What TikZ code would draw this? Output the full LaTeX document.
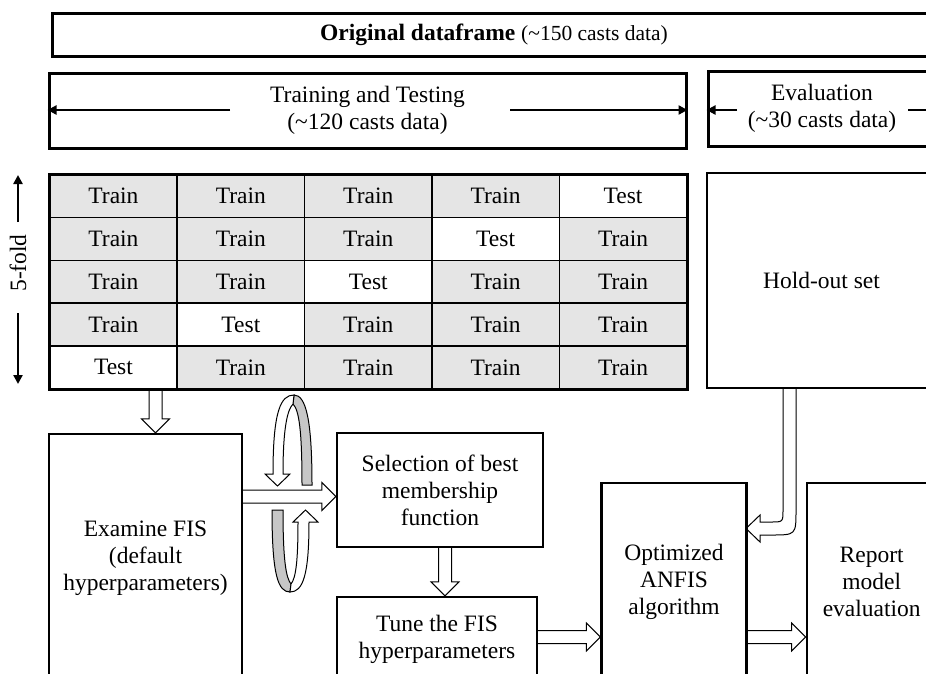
\documentclass[tikz,border=0pt]{standalone}
\usepackage{fontspec}
\setmainfont{Liberation Serif}
\usetikzlibrary{calc,arrows.meta}
\definecolor{cellgray}{gray}{0.9}
\definecolor{ribbon}{gray}{0.78}
\newcommand\barrowdown[2]{\draw[harrow] let \p1=(#1), \p2=(#2) in
  (\x1-6.5pt,\y1) -- (\x1-6.5pt,\y2+14pt) -- (\x1-14pt,\y2+14pt) -- (\x1,\y2) -- (\x1+14pt,\y2+14pt) -- (\x1+6.5pt,\y2+14pt) -- (\x1+6.5pt,\y1);}
\newcommand\barrowright[2]{\draw[harrow] let \p1=(#1), \p2=(#2) in
  (\x1,\y1+6.5pt) -- (\x2-14pt,\y1+6.5pt) -- (\x2-14pt,\y1+14pt) -- (\x2,\y1) -- (\x2-14pt,\y1-14pt) -- (\x2-14pt,\y1-6.5pt) -- (\x1,\y1-6.5pt);}
\begin{document}
\begin{tikzpicture}[x=1pt,y=-1pt,
  every node/.style={font=\fontsize{23.5}{27}\selectfont, align=center, inner sep=0pt},
  bigbox/.style={draw, line width=3pt},
  box/.style={draw, line width=2.2pt},
  cell/.style={draw, line width=1.5pt, minimum width=127.4pt, minimum height=42.8pt, font=\fontsize{23.5}{26}\selectfont},
  harrow/.style={draw, line width=1pt, line join=miter},
  thinarrow/.style={line width=2.6pt, -{Triangle[length=9pt,width=9pt]}},
  loopfill/.style={draw, line width=1pt, fill=ribbon},
  loopwhite/.style={draw, line width=1pt, fill=white},
]
\useasboundingbox (0,0) rectangle (926,673);
\clip (0,0) rectangle (926,673);

% top boxes
\node[bigbox, minimum width=884pt, minimum height=43pt] (orig) at (494,34.5)
  {\textbf{Original dataframe} {\fontsize{21.5}{24}\selectfont(\textasciitilde150 casts data)}};
\node[bigbox, minimum width=637pt, minimum height=75pt] (tt) at (367.5,110.5)
  {Training and Testing\\(\textasciitilde120 casts data)};
\node[bigbox, minimum width=228pt, minimum height=75pt] (ev) at (822,108.5)
  {Evaluation\\(\textasciitilde30 casts data)};

\coordinate (ttL) at (230,110);
\coordinate (ttR) at (510,110);
\draw[thinarrow] (ttL) -- (ttL -| tt.west);
\draw[thinarrow] (ttR) -- (ttR -| tt.east);
\coordinate (evL) at (737,110);
\coordinate (evR) at (908,110);
\draw[thinarrow] (evL) -- (evL -| ev.west);
\draw[thinarrow] (evR) -- (evR -| ev.east);

% 5-fold
\node[rotate=90] (fold) at (18,263) {5-fold};
\coordinate (fu1) at (18,222);
\coordinate (fu2) at (18,175);
\coordinate (fd1) at (18,313);
\coordinate (fd2) at (18,384);
\draw[thinarrow] (fu1) -- (fu2);
\draw[thinarrow] (fd1) -- (fd2);

% table
\foreach \r in {1,...,5}{\foreach \c in {1,...,5}{
  \pgfmathtruncatemacro\istest{(\r+\c==6) ? 1 : 0}
  \ifnum\istest=1 \def\lab{Test}\def\fc{white}\else\def\lab{Train}\def\fc{cellgray}\fi
  \node[cell, fill=\fc, anchor=north west] (c\r\c) at ({49+(\c-1)*127.4},{174+(\r-1)*42.8}) {\lab};
}}
\draw[line width=2pt] (c11.north west) rectangle (c55.south east);

% boxes
\node[box, minimum width=229pt, minimum height=215pt] (hold) at (821.5,280.5) {Hold-out set};
\node[box, minimum width=193pt, minimum height=248pt] (exam) at (145.5,558) {Examine FIS\\(default\\hyperparameters)};
\node[box, minimum width=206pt, minimum height=114pt] (sel) at (440,490) {Selection of best\\membership\\function};
\node[box, minimum width=200pt, minimum height=84pt] (tune) at (437,639) {Tune the FIS\\hyperparameters};
\node[box, minimum width=145pt, minimum height=198pt] (opt) at (674,582) {Optimized\\ANFIS\\algorithm};
\node[box, minimum width=130pt, minimum height=198pt] (rep) at (871.7,582) {Report\\model\\evaluation};

% block arrows
\coordinate (a1) at (155.5,388);
\barrowdown{a1}{a1 |- exam.north}
\coordinate (a2) at (445,547);
\barrowdown{a2}{a2 |- tune.north}
\coordinate (a3) at (242,496.5);
\barrowright{a3}{a3 -| sel.west}
\coordinate (a4) at (537,637);
\barrowright{a4}{a4 -| opt.west}
\coordinate (a5) at (746,637);
\barrowright{a5}{a5 -| rep.west}

% hold-out arrow
\coordinate (hoTop) at (789.5,388);
\coordinate (hoTip) at (746,528.5);
\draw[harrow] let \p1=(hoTop), \p2=(hoTip) in
 (\x1-6.5pt,\y1) -- (\x1-6.5pt,\y2+18.5pt) .. controls (\x1-6.5pt,\y2+6.5pt) .. (\x1-18.5pt,\y2+6.5pt)
 -- (\x2+14pt,\y2+6.5pt) -- (\x2+14pt,\y2+13.5pt) -- (\x2,\y2) -- (\x2+14pt,\y2-13.5pt) -- (\x2+14pt,\y2-6.5pt)
 -- (\x1-18.5pt,\y2-6.5pt) .. controls (\x1+6.5pt,\y2-6.5pt) .. (\x1+6.5pt,\y2+18.5pt) -- (\x1+6.5pt,\y1);

% circular arrows (upper)
\filldraw[loopfill] (294,395) .. controls (306,395) and (312,420) .. (312,485) -- (302,485)
  .. controls (302,430) and (299,410) .. (293,404) -- cycle;
\filldraw[loopwhite] (294,395) .. controls (281,395) and (273,410) .. (273,474) -- (265,474) -- (277.5,486)
  -- (290,474) -- (283,474) .. controls (283,430) and (287,410) .. (293,404) -- cycle;
% circular arrows (lower)
\filldraw[loopfill] (290,592) .. controls (278,592) and (272,575) .. (272,510) -- (283,510)
  .. controls (283,560) and (286,578) .. (291,584) -- cycle;
\filldraw[loopwhite] (290,592) .. controls (303,592) and (309,575) .. (309,522) -- (318,522) -- (305.5,510)
  -- (293,522) -- (298,522) .. controls (298,560) and (296,578) .. (291,584) -- cycle;
\end{tikzpicture}
\end{document}
